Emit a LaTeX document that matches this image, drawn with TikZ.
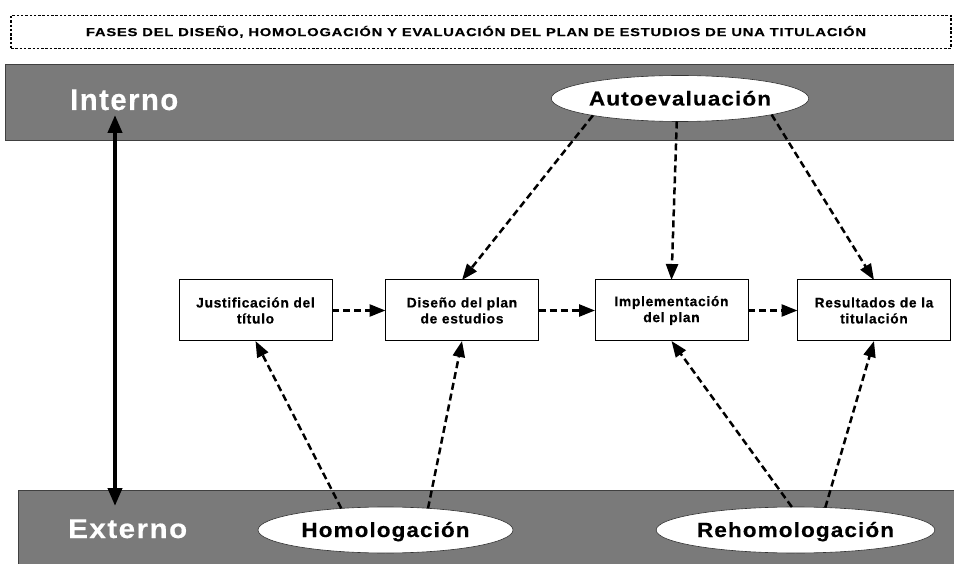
\documentclass[tikz,border=0pt]{standalone}
\usepackage{graphicx}
\usepackage{fontspec}
\setmainfont{Liberation Sans}
\newfontfamily\heavy{Liberation Sans}[LetterSpace=5, BoldFeatures={FakeBold=0.4}]
\usetikzlibrary{arrows.meta,shapes.geometric}
\definecolor{bandgray}{RGB}{122,122,122}
\newcommand{\fitw}[2]{\resizebox{#1}{\height}{#2}}
\begin{document}
\begin{tikzpicture}[x=1pt,y=-1pt,
  band/.style={draw=black!75, line width=0.6pt, fill=bandgray, inner sep=0pt, outer sep=0pt},
  oval/.style={ellipse, draw=black!80, line width=0.6pt, fill=white, inner sep=0pt, outer sep=0pt,
    text height=14pt, text depth=0pt},
  phase/.style={draw=black, line width=1pt, fill=white, minimum width=153pt, minimum height=61pt,
    text width=150pt, align=center, inner sep=0pt, outer sep=0pt,
    font=\fontsize{13.8}{16}\selectfont\heavy\bfseries},
  flow/.style={line width=2.5pt, dash pattern=on 7pt off 4pt, -{Triangle[length=16pt,width=12pt]}},
  bandlabel/.style={text=white, inner sep=0pt, anchor=base west}
]
\useasboundingbox (0,0) rectangle (954,564);

% title
\node (title) [draw=black, line width=1.3pt, dash pattern=on 2.5pt off 1.8pt,
  minimum width=940pt, minimum height=33pt, inner sep=0pt] at (481,32) {};
\node (titletext) [inner sep=0pt, text height=8.2pt, text depth=0pt] at (476,32)
  {\fitw{780pt}{\fontsize{11.5}{12}\selectfont\heavy\bfseries FASES DEL DISEÑO, HOMOLOGACIÓN Y EVALUACIÓN DEL PLAN DE ESTUDIOS DE UNA TITULACIÓN}};

% bands
\node (bandI) [band, minimum width=950pt, minimum height=76pt] at (480,102) {};
\node (bandE) [band, minimum width=938pt, minimum height=76pt] at (487,528) {};
\node (lblI) [bandlabel] at (70,110) {\fitw{108pt}{\fontsize{30}{32}\selectfont\heavy\bfseries Interno}};
\node (lblE) [bandlabel] at (68,538) {\fitw{119pt}{\fontsize{27}{29}\selectfont\heavy\bfseries Externo}};

% ovals
\node (auto) [oval, minimum width=242pt, minimum height=46pt] at (680,98.5)
  {\fitw{182pt}{\fontsize{20}{22}\selectfont\heavy\bfseries Autoevaluación}};
\node (homol) [oval, minimum width=255pt, minimum height=46pt] at (385.5,530)
  {\fitw{168pt}{\fontsize{20.5}{22}\selectfont\heavy\bfseries Homologación}};
\node (rehomol) [oval, minimum width=255pt, minimum height=46pt] at (795.5,530)
  {\fitw{197pt}{\fontsize{20.5}{22}\selectfont\heavy\bfseries Rehomologación}};

% phases
\node (j) [phase] at (255.5,310.5) {Justificación del\\título};
\node (d) [phase] at (462,310.5) {Diseño del plan\\de estudios};
\node (i) [phase] at (671.5,310.5) {Implementación\\del plan};
\node (r) [phase] at (874,310.5) {Resultados de la\\titulación};

% internal / external double arrow
\coordinate (up) at (115,115);
\coordinate (dn) at (115,506);
\draw[line width=4pt, {Triangle[length=18pt,width=14pt]}-{Triangle[length=18pt,width=14pt]}] (up) -- (dn);

% flow between phases
\draw[flow] (j.east) -- (d.west);
\draw[flow] (d.east) -- (i.west);
\draw[flow] (i.east) -- (r.west);

% self-evaluation
\draw[flow] (auto.191) -- (d.north);
\draw[flow] (auto.262) -- (i.north);
\draw[flow] (auto.350) -- (r.north);

% homologation
\draw[flow] (homol.154) -- (j.south);
\draw[flow] (homol.27) -- (d.south);
\draw[flow] (rehomol.99) -- (i.south);
\draw[flow] (rehomol.37) -- (r.south);
\end{tikzpicture}
\end{document}
